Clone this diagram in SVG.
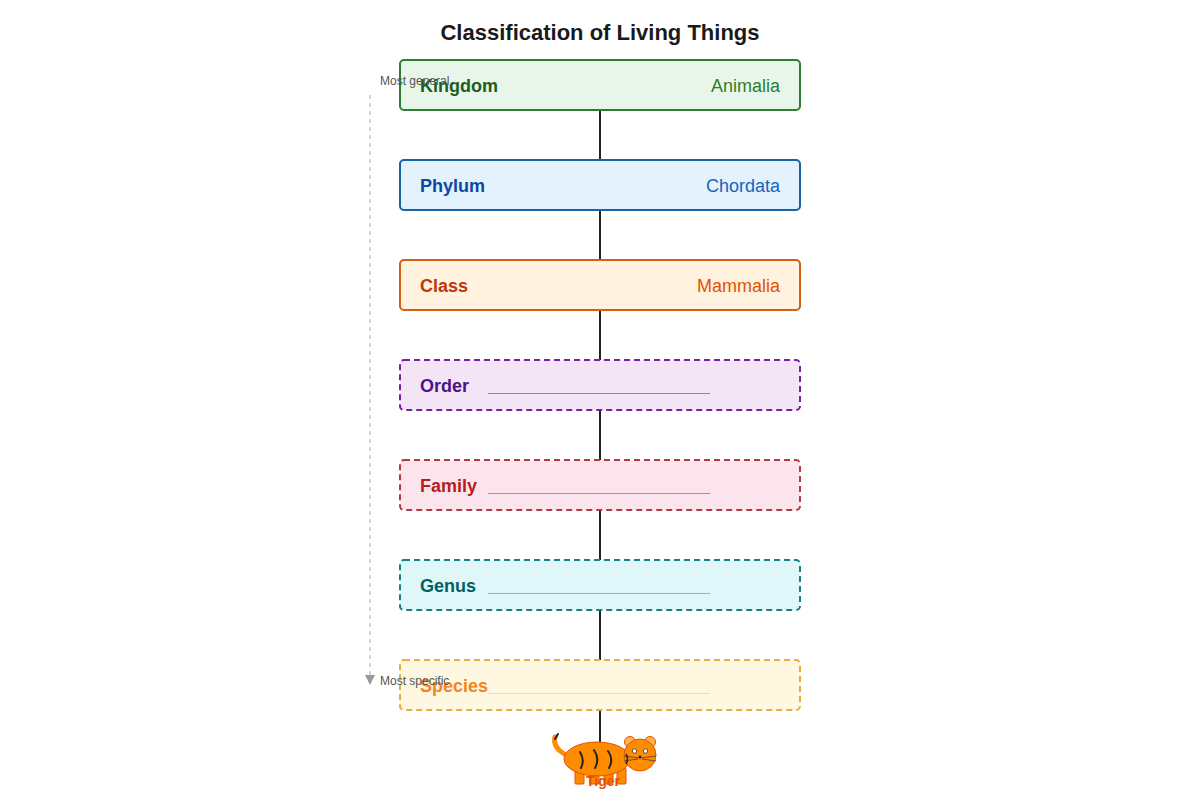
<svg xmlns="http://www.w3.org/2000/svg" width="1200" height="800" viewBox="0 0 1200 800">
<style>
text{font-family:"Liberation Sans",Arial,sans-serif}
.title{font-size:22px;font-weight:bold;fill:#1a1a1a}
.lbl{font-size:18px;font-weight:bold}
.val{font-size:18px;text-anchor:end}
.axis{font-size:12px;fill:#555}
.box{stroke-width:2}
.dash{stroke-dasharray:6 4}
.conn{stroke:#222;stroke-width:2}
.blank{stroke-width:1}
</style>
<rect width="1200" height="800" fill="#fff"/>
<text class="title" x="600" y="40" text-anchor="middle">Classification of Living Things</text>

<g id="axis">
<line x1="370" y1="95" x2="370" y2="676" stroke="#c4c4c4" stroke-width="1.5" stroke-dasharray="4 4"/>
<polygon points="365,675 375,675 370,685" fill="#999"/>
</g>

<g id="connectors">
<line class="conn" x1="600" y1="110" x2="600" y2="160"/>
<line class="conn" x1="600" y1="210" x2="600" y2="260"/>
<line class="conn" x1="600" y1="310" x2="600" y2="360"/>
<line class="conn" x1="600" y1="410" x2="600" y2="460"/>
<line class="conn" x1="600" y1="510" x2="600" y2="560"/>
<line class="conn" x1="600" y1="610" x2="600" y2="660"/>
<line class="conn" x1="600" y1="710" x2="600" y2="742"/>
</g>

<g id="kingdom">
<rect class="box" x="400" y="60" width="400" height="50" rx="4" fill="#e8f5e9" stroke="#2e7d32"/>
<text class="lbl" x="420" y="92" fill="#1b5e20">Kingdom</text>
<text class="val" x="780" y="92" fill="#2e7d32">Animalia</text>
</g>
<g id="phylum">
<rect class="box" x="400" y="160" width="400" height="50" rx="4" fill="#e3f2fd" stroke="#1a62a8"/>
<text class="lbl" x="420" y="192" fill="#0d47a1">Phylum</text>
<text class="val" x="780" y="192" fill="#1565c0">Chordata</text>
</g>
<g id="class">
<rect class="box" x="400" y="260" width="400" height="50" rx="4" fill="#fff3e0" stroke="#d35f12"/>
<text class="lbl" x="420" y="292" fill="#bf360c">Class</text>
<text class="val" x="780" y="292" fill="#e65100">Mammalia</text>
</g>
<g id="order">
<rect class="box dash" x="400" y="360" width="400" height="50" rx="4" fill="#f3e5f5" stroke="#7b1fa2"/>
<text class="lbl" x="420" y="392" fill="#4a148c">Order</text>
<line class="blank" x1="488" y1="393.5" x2="710" y2="393.5" stroke="#ba68c8"/>
</g>
<g id="family">
<rect class="box dash" x="400" y="460" width="400" height="50" rx="4" fill="#fce4ec" stroke="#b23a48"/>
<text class="lbl" x="420" y="492" fill="#b71c1c">Family</text>
<line class="blank" x1="488" y1="493.5" x2="710" y2="493.5" stroke="#e57398"/>
</g>
<g id="genus">
<rect class="box dash" x="400" y="560" width="400" height="50" rx="4" fill="#e0f7fa" stroke="#1a7f80"/>
<text class="lbl" x="420" y="592" fill="#006064">Genus</text>
<line class="blank" x1="488" y1="593.5" x2="710" y2="593.5" stroke="#4dd0e1"/>
</g>
<g id="species">
<rect class="box dash" x="400" y="660" width="400" height="50" rx="4" fill="#fff8e1" stroke="#e8ac40"/>
<text class="lbl" x="420" y="692" fill="#ef8626">Species</text>
<line class="blank" x1="488" y1="693.5" x2="710" y2="693.5" stroke="#ffe082"/>
</g>

<g id="axis-labels">
<text class="axis" x="380" y="85">Most general</text>
<text class="axis" x="380" y="685">Most specific</text>
</g>

<g id="tiger">
<path d="M568,756 Q552,748 555,737" fill="none" stroke="#ff8c00" stroke-width="5" stroke-linecap="round"/>
<path d="M555,739 L558,734" stroke="#222" stroke-width="2" stroke-linecap="round"/>
<rect x="575" y="768" width="9" height="16" rx="1" fill="#ff8c00" stroke="#e65100" stroke-width="1"/>
<rect x="590" y="768" width="9" height="16" rx="1" fill="#ff8c00" stroke="#e65100" stroke-width="1"/>
<rect x="604" y="768" width="9" height="16" rx="1" fill="#ff8c00" stroke="#e65100" stroke-width="1"/>
<rect x="617" y="768" width="9" height="16" rx="1" fill="#ff8c00" stroke="#e65100" stroke-width="1"/>
<ellipse cx="597" cy="759" rx="33" ry="17" fill="#ff8c00" stroke="#e65100" stroke-width="1"/>
<path d="M580,752 Q585,760 581,768" fill="none" stroke="#222" stroke-width="2" stroke-linecap="round"/>
<path d="M594,750 Q600,759 595,768" fill="none" stroke="#222" stroke-width="2" stroke-linecap="round"/>
<path d="M608,751 Q614,759 609,768" fill="none" stroke="#222" stroke-width="2" stroke-linecap="round"/>
<circle cx="630" cy="742" r="5.5" fill="#ffb74d" stroke="#e65100" stroke-width="1"/>
<circle cx="650" cy="742" r="5.5" fill="#ffb74d" stroke="#e65100" stroke-width="1"/>
<circle cx="640" cy="755" r="16" fill="#ff8c00" stroke="#e65100" stroke-width="1"/>
<circle cx="634.5" cy="751" r="2.2" fill="#fff" stroke="#333" stroke-width="0.8"/>
<circle cx="645.5" cy="751" r="2.2" fill="#fff" stroke="#333" stroke-width="0.8"/>
<circle cx="640" cy="757" r="1.6" fill="#222"/>
<path d="M638,758 L624,756 M638,759 L624,761 M642,758 L656,756 M642,759 L656,761" stroke="#333" stroke-width="0.7"/>
<path d="M626,754 Q629,759 626,764" fill="none" stroke="#222" stroke-width="1.5"/>
<text x="603" y="786" text-anchor="middle" font-size="14" font-weight="bold" fill="#e65100">Tiger</text>
</g>
</svg>
